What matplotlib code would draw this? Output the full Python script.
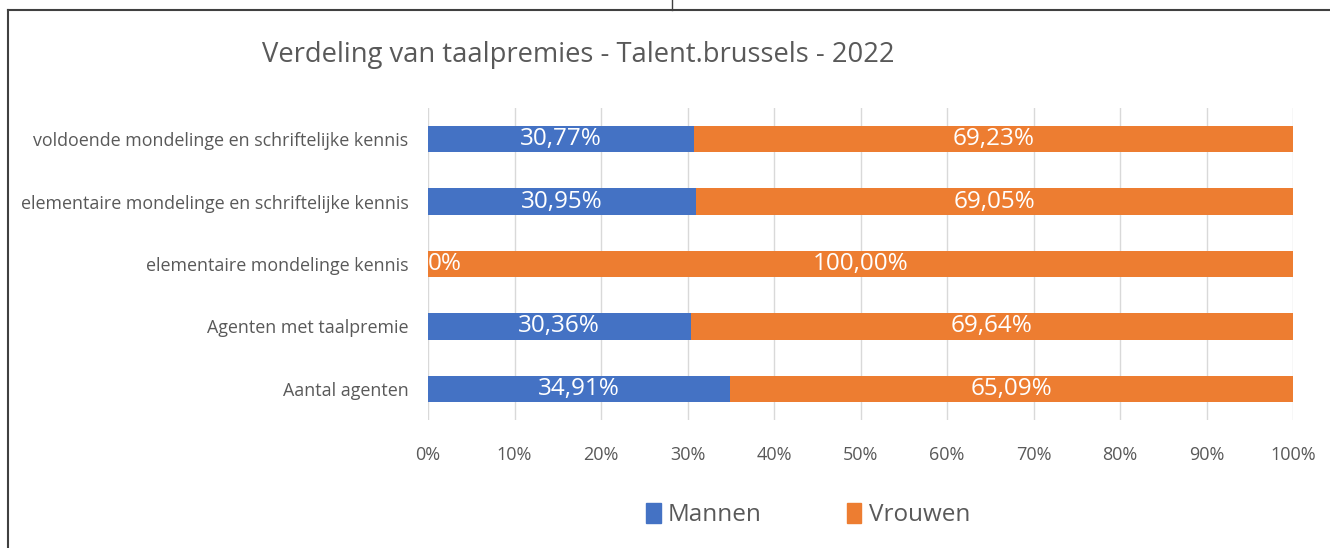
import matplotlib
matplotlib.use("Agg")
import matplotlib.pyplot as plt
from matplotlib.lines import Line2D
from matplotlib.patches import Patch

# data (bottom to top as drawn)
categories = ["Aantal agenten",
              "Agenten met taalpremie",
              "elementaire mondelinge kennis",
              "elementaire mondelinge en schriftelijke kennis",
              "voldoende mondelinge en schriftelijke kennis"]
mannen = [34.91, 30.36, 0.0, 30.95, 30.77]
vrouwen = [65.09, 69.64, 100.0, 69.05, 69.23]
xticks = [0, 10, 20, 30, 40, 50, 60, 70, 80, 90, 100]

BLUE = "#4472C4"
ORANGE = "#ED7D31"
GREY = "#595959"

plt.rcParams['font.family'] = ['Open Sans', 'DejaVu Sans']

fig = plt.figure(figsize=(13.3, 5.48), dpi=100)
ax = fig.add_axes([428/1330, 1 - 420/548, (1293-428)/1330, (420-108)/548])

y = range(len(categories))
ax.barh(y, mannen, height=0.42, color=BLUE, label="Mannen", zorder=3)
ax.barh(y, vrouwen, left=mannen, height=0.42, color=ORANGE, label="Vrouwen", zorder=3)

def fmt(v):
    if v == 0:
        return "0%"
    return ("%.2f%%" % v).replace(".", ",")

for i in y:
    m, v = mannen[i], vrouwen[i]
    if m == 0:
        ax.text(0, i, fmt(m), ha="left", va="center", color="white", fontsize=17.5, zorder=4)
    else:
        ax.text(m / 2, i, fmt(m), ha="center", va="center", color="white", fontsize=17.5, zorder=4)
    ax.text(m + v / 2, i, fmt(v), ha="center", va="center", color="white", fontsize=17.5, zorder=4)

ax.set_xlim(0, 100)
ax.set_ylim(-0.5, len(categories) - 0.5)
ax.set_xticks(xticks)
ax.set_xticklabels(["%d%%" % t for t in xticks], color=GREY, fontsize=13)
ax.set_yticks(list(y))
ax.set_yticklabels(categories, color=GREY, fontsize=12.9)
ax.tick_params(axis="both", length=0)
ax.tick_params(axis="x", pad=19)
ax.tick_params(axis="y", pad=14)
ax.xaxis.grid(True, color="#D9D9D9", linewidth=1, zorder=0)
for s in ax.spines.values():
    s.set_visible(False)

fig.text(262/1330, 1 - 55/548, "Verdeling van taalpremies - Talent.brussels - 2022",
         fontsize=19.7, color=GREY, ha="left", va="center")

handles = [Patch(color=BLUE, label="Mannen"), Patch(color=ORANGE, label="Vrouwen")]
fig.legend(handles=handles, loc="center", bbox_to_anchor=(808/1330, 1 - 515/548),
           ncol=2, frameon=False, fontsize=17.5, handlelength=0.6, handleheight=0.9,
           handletextpad=0.3, columnspacing=3.5, labelcolor=GREY)

# frame of the screenshot
fig.add_artist(Line2D([8/1330, 8/1330], [0, 1 - 10/548], color="#404040", linewidth=1.5))
fig.add_artist(Line2D([8/1330, 1], [1 - 10/548, 1 - 10/548], color="#404040", linewidth=1.5))
fig.add_artist(Line2D([672/1330, 672/1330], [1 - 10/548, 1], color="#404040", linewidth=1))

fig.savefig("out.png", dpi=100)
